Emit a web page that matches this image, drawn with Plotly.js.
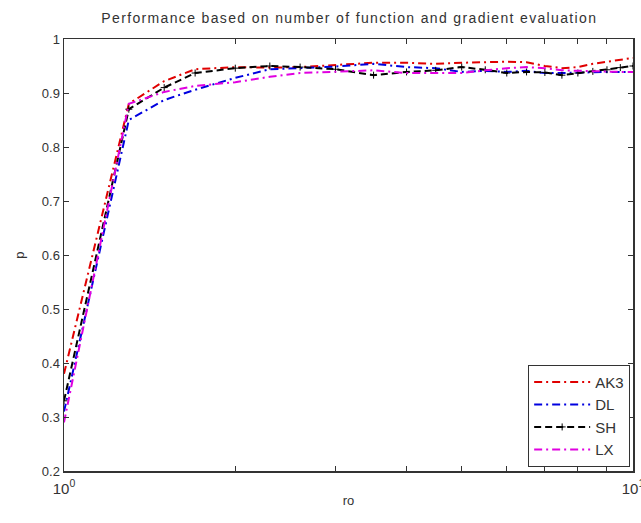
<!DOCTYPE html>
<html>
<head>
<meta charset="utf-8">
<script src="https://cdn.plot.ly/plotly-3.0.1.min.js"></script>
<style>html,body{margin:0;padding:0;background:#fff;}#chart{width:641px;height:523px;}
.gtitle{letter-spacing:1.35px;}</style>
</head>
<body>
<div id="chart"></div>
<script>
// ratio values (log scale x axis)
const ro = [1, 1.3, 1.5, 1.7, 2, 2.3, 2.6, 3, 3.5, 4, 4.5, 5, 5.5, 6, 6.5, 7, 7.5, 8, 8.5, 9, 9.5, 10];
// performance profile values p(ro) for each method
const AK3 = [0.38, 0.88, 0.922, 0.944, 0.948, 0.947, 0.948, 0.952, 0.956, 0.956, 0.954, 0.956, 0.957, 0.958, 0.957, 0.950, 0.946, 0.948, 0.954, 0.958, 0.962, 0.965];
const DL  = [0.31, 0.85, 0.887, 0.906, 0.928, 0.944, 0.946, 0.949, 0.954, 0.948, 0.946, 0.939, 0.941, 0.939, 0.941, 0.937, 0.937, 0.938, 0.939, 0.939, 0.939, 0.939];
const SH  = [0.33, 0.87, 0.910, 0.937, 0.946, 0.950, 0.948, 0.944, 0.933, 0.939, 0.942, 0.948, 0.943, 0.937, 0.939, 0.938, 0.933, 0.937, 0.940, 0.943, 0.947, 0.950];
const LX  = [0.29, 0.88, 0.902, 0.913, 0.920, 0.930, 0.937, 0.939, 0.942, 0.937, 0.937, 0.937, 0.942, 0.946, 0.948, 0.946, 0.942, 0.941, 0.941, 0.939, 0.939, 0.939];
const seriesNames = ['AK3', 'DL', 'SH', 'LX'];
const xTickVals = [1, 10];
const xTickText = ['10<sup>0</sup>', '10<sup>1</sup>'];
const xMinorVals = [2, 3, 4, 5, 6, 7, 8, 9];
const yTickVals = [0.2, 0.3, 0.4, 0.5, 0.6, 0.7, 0.8, 0.9, 1];

const dd = '8px,4px,2px,4px';
const traces = [
  {x: ro, y: AK3, name: seriesNames[0], mode: 'lines', line: {color: '#e00000', width: 2, dash: dd}},
  {x: ro, y: DL, name: seriesNames[1], mode: 'lines', line: {color: '#0000e0', width: 2, dash: dd}},
  {x: ro, y: SH, name: seriesNames[2], mode: 'lines+markers', line: {color: '#000000', width: 2, dash: '7px,4px'},
   marker: {symbol: 'cross-thin', size: 5, line: {color: '#000', width: 1}}},
  {x: ro, y: LX, name: seriesNames[3], mode: 'lines', line: {color: '#e000e0', width: 2, dash: dd}}
];

const axisFont = {family: 'Liberation Sans, Arial, sans-serif', size: 13, color: '#333'};
const layout = {
  width: 641, height: 523,
  margin: {l: 64, r: 8, t: 39, b: 52},
  paper_bgcolor: '#fff', plot_bgcolor: '#fff',
  showlegend: true,
  title: {text: 'Performance based on number of function and gradient evaluation',
          font: {family: 'Liberation Sans, Arial, sans-serif', size: 14, color: '#333'},
          x: 0.545, xanchor: 'center', y: 0.965, yanchor: 'middle'},
  xaxis: {type: 'log', range: [0, 1], tickmode: 'array', tickvals: xTickVals, ticktext: xTickText,
          ticks: 'inside', ticklen: 5, tickcolor: '#333', showline: true, linecolor: '#333', linewidth: 1.5,
          mirror: 'allticks', showgrid: false, zeroline: false,
          tickfont: {family: 'Liberation Sans, Arial, sans-serif', size: 15, color: '#333'},
          ticklabeloverflow: 'allow', ticklabelstandoff: 3,
          minor: {tickmode: 'array', tickvals: xMinorVals, ticks: 'inside', ticklen: 5, tickcolor: '#333', showgrid: false},
          title: {text: 'ro', font: axisFont, standoff: 0}},
  yaxis: {range: [0.2, 1], tickmode: 'array', tickvals: yTickVals,
          ticks: 'inside', ticklen: 5, tickcolor: '#333', showline: true, linecolor: '#333', linewidth: 1.5,
          mirror: 'allticks', showgrid: false, zeroline: false, tickfont: axisFont,
          title: {text: 'p', font: axisFont, standoff: 14}},
  legend: {x: 0.995, xanchor: 'right', y: 0.01, yanchor: 'bottom', bgcolor: '#fff',
           bordercolor: '#333', borderwidth: 1, itemwidth: 56,
           font: {family: 'Liberation Sans, Arial, sans-serif', size: 15, color: '#333'},
           tracegroupgap: 0}
};
Plotly.newPlot('chart', traces, layout, {displayModeBar: false, staticPlot: true});
</script>
</body>
</html>
